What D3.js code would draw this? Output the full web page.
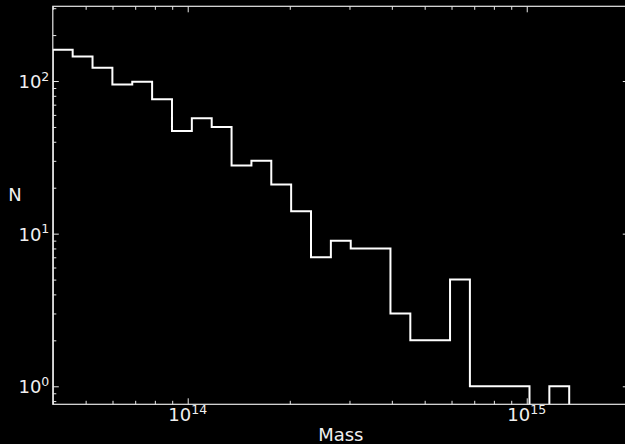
<!DOCTYPE html>
<html>
<head>
<meta charset="utf-8">
<script src="https://cdn.jsdelivr.net/npm/d3@7"></script>
<style>
  html, body { margin: 0; padding: 0; background: #000; }
  svg { display: block; }
  text { font-family: "DejaVu Sans", sans-serif; fill: #f0f0f0; }
</style>
</head>
<body>
<svg id="chart" width="625" height="444"></svg>
<script>
// Halo mass histogram: 29 log-spaced bins from 4e13 to 2e15
const massMin = 4e13;
const massMax = 2e15;
const binCount = 29;
const counts = [160, 145, 122, 95, 99, 76, 47, 57, 50, 28, 30, 21, 14, 7, 9, 8, 8, 3, 2, 2, 5, 1, 1, 1, 0, 1, 0, 0, 0];
const xMajorTicks = [1e14, 1e15];
const xTickExponents = ["14", "15"];
const yMajorTicks = [1, 10, 100];
const yTickExponents = ["0", "1", "2"];
const xLabel = "Mass";
const yLabel = "N";

const W = 625, H = 444;
const plot = { left: 52.8, right: 628.8, top: 6.3, bottom: 404.3 };

const svg = d3.select("#chart");

const x = d3.scaleLog().domain([massMin, massMax]).range([plot.left, plot.right]);
const y = d3.scaleLog().domain([0.762, 308.7]).range([plot.bottom, plot.top]);

// bin edges evenly spaced in log10(mass)
const logMin = Math.log10(massMin), logMax = Math.log10(massMax);
const edges = d3.range(binCount + 1).map(i => Math.pow(10, logMin + (logMax - logMin) * i / binCount));

// minor tick values (2..9 x 10^k)
function minorTicks(lo, hi) {
  const out = [];
  for (let e = Math.floor(Math.log10(lo)) - 1; e <= Math.ceil(Math.log10(hi)); e++) {
    for (let m = 2; m <= 9; m++) {
      const v = m * Math.pow(10, e);
      if (v >= lo && v <= hi) out.push(v);
    }
  }
  return out;
}
const xMinor = minorTicks(massMin, massMax);
const yMinor = minorTicks(0.762, 308.7);

// clip region for the plotting area
svg.append("defs").append("clipPath").attr("id", "plotclip")
  .append("rect")
  .attr("x", plot.left).attr("y", plot.top)
  .attr("width", plot.right - plot.left).attr("height", plot.bottom - plot.top);

// step outline of the histogram
const yBottomOut = plot.bottom + 20;
const yOf = v => (v > 0 ? y(v) : yBottomOut);
let d = `M${x(edges[0])},${yBottomOut}`;
counts.forEach((c, i) => {
  d += `L${x(edges[i])},${yOf(c)}L${x(edges[i + 1])},${yOf(c)}`;
});
d += `L${x(edges[binCount])},${yBottomOut}`;

svg.append("path")
  .attr("d", d)
  .attr("fill", "none")
  .attr("stroke", "#ffffff")
  .attr("stroke-width", 2)
  .attr("stroke-linejoin", "miter")
  .attr("clip-path", "url(#plotclip)");

// axes with inward ticks on all four sides
const spineColor = "#e8e8e8";
function styleAxis(g) {
  g.select(".domain").remove();
  g.selectAll(".tick line").attr("stroke", spineColor).attr("stroke-width", 1);
  g.selectAll(".tick text").remove();
}
const majLen = 6, minLen = 3.5;

svg.append("g").attr("transform", `translate(0,${plot.bottom})`)
  .call(d3.axisBottom(x).tickValues(xMajorTicks).tickSize(-majLen).tickFormat("")).call(styleAxis);
svg.append("g").attr("transform", `translate(0,${plot.bottom})`)
  .call(d3.axisBottom(x).tickValues(xMinor).tickSize(-minLen).tickFormat("")).call(styleAxis);
svg.append("g").attr("transform", `translate(0,${plot.top})`)
  .call(d3.axisTop(x).tickValues(xMajorTicks).tickSize(-majLen).tickFormat("")).call(styleAxis);
svg.append("g").attr("transform", `translate(0,${plot.top})`)
  .call(d3.axisTop(x).tickValues(xMinor).tickSize(-minLen).tickFormat("")).call(styleAxis);

svg.append("g").attr("transform", `translate(${plot.left},0)`)
  .call(d3.axisLeft(y).tickValues(yMajorTicks).tickSize(-majLen).tickFormat("")).call(styleAxis);
svg.append("g").attr("transform", `translate(${plot.left},0)`)
  .call(d3.axisLeft(y).tickValues(yMinor).tickSize(-minLen).tickFormat("")).call(styleAxis);
svg.append("g").attr("transform", `translate(${plot.right},0)`)
  .call(d3.axisRight(y).tickValues(yMajorTicks).tickSize(-majLen).tickFormat("")).call(styleAxis);
svg.append("g").attr("transform", `translate(${plot.right},0)`)
  .call(d3.axisRight(y).tickValues(yMinor).tickSize(-minLen).tickFormat("")).call(styleAxis);

// spines
svg.append("rect")
  .attr("x", plot.left).attr("y", plot.top)
  .attr("width", plot.right - plot.left).attr("height", plot.bottom - plot.top)
  .attr("fill", "none").attr("stroke", spineColor).attr("stroke-width", 1.2);

// tick labels as 10^k
const fs = 18, sup = 12.5;
function powerLabel(sel, exp) {
  sel.append("tspan").text("10");
  sel.append("tspan").attr("font-size", sup).attr("dy", -7.5).text(exp);
}
xMajorTicks.forEach((v, i) => {
  svg.append("text")
    .attr("x", x(v)).attr("y", 421)
    .attr("text-anchor", "middle").attr("font-size", fs)
    .call(powerLabel, xTickExponents[i]);
});
yMajorTicks.forEach((v, i) => {
  svg.append("text")
    .attr("x", plot.left - 3.5).attr("y", y(v) + 7)
    .attr("text-anchor", "end").attr("font-size", fs)
    .call(powerLabel, yTickExponents[i]);
});

// axis titles
svg.append("text")
  .attr("x", (plot.left + plot.right) / 2).attr("y", 441)
  .attr("text-anchor", "middle").attr("font-size", fs)
  .text(xLabel);
svg.append("text")
  .attr("x", 15).attr("y", 201)
  .attr("text-anchor", "middle").attr("font-size", fs)
  .text(yLabel);
</script>
</body>
</html>
